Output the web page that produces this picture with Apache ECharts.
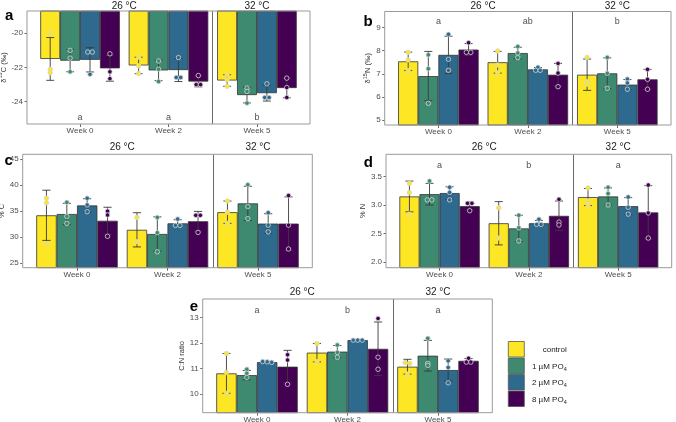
<!DOCTYPE html>
<html><head><meta charset="utf-8">
<script src="https://cdn.jsdelivr.net/npm/echarts@6/dist/echarts.min.js"></script>
<style>html,body{margin:0;padding:0;background:#fff}#c{width:676px;height:422px}</style>
</head><body><div id="c"></div>
<script>
// ---------- shared categories ----------
const weeks = ['Week 0', 'Week 2', 'Week 5'];
const weekX = [1, 2, 3];
const groups = ['control', '1 µM PO4', '2 µM PO4', '8 µM PO4'];
const groupLabels = ['{t|control}', '{t|1 µM PO}{b|4}', '{t|2 µM PO}{b|4}', '{t|8 µM PO}{b|4}'];
const temps = ['26 °C', '32 °C'];
const tempX = [1.5, 3];
const dividerX = 2.5;

// ---------- panel a: δ13C ----------
const d13C_mean = [[-21.5, -21.88, -22.76], [-21.6, -22.17, -23.61], [-21.55, -22.15, -23.5], [-22.05, -22.82, -23.2]];
const d13C_sd = [[1.25, 0.48, 0.34], [0.65, 0.6, 0.46], [0.71, 0.67, 0.46], [0.75, 0.31, 0.57]];
const d13C_pts = [
  [[-20.0, -22.1, -22.3], [-21.4, -21.9, -22.35], [-22.43, -22.72, -23.1]],
  [[-21.0, -21.45, -22.25], [-21.62, -22.1, -22.82], [-23.2, -23.4, -24.08]],
  [[-21.1, -21.1, -22.4], [-21.42, -22.58, -22.58], [-22.95, -23.75, -23.75]],
  [[-21.2, -22.25, -22.65], [-22.47, -23.0, -23.0], [-22.62, -23.17, -23.75]]
];
const d13C_letters = ['a', 'a', 'b'];
const d13C_ticks = [-24, -22, -20];

// ---------- panel b: δ15N ----------
const d15N_mean = [[7.54, 7.5, 6.96], [6.9, 7.9, 7.02], [7.82, 7.19, 6.53], [8.05, 6.96, 6.76]];
const d15N_sd = [[0.4, 0.47, 0.68], [1.07, 0.25, 0.67], [0.81, 0.08, 0.22], [0.26, 0.49, 0.43]];
const d15N_pts = [
  [[7.93, 7.6, 7.14], [7.99, 7.38, 7.05], [7.71, 6.66, 6.55]],
  [[7.82, 7.22, 5.72], [8.18, 7.9, 7.7], [7.71, 7.02, 6.37]],
  [[8.71, 7.63, 7.15], [7.28, 7.15, 7.15], [6.77, 6.6, 6.33]],
  [[8.35, 7.93, 7.93], [7.45, 7.03, 6.44], [7.19, 6.76, 6.33]]
];
const d15N_letters = ['a', 'ab', 'b'];
const d15N_ticks = [5, 6, 7, 8, 9];

// ---------- panel c: %C ----------
const pctC_mean = [[34.2, 31.4, 34.8], [34.45, 30.6, 36.5], [36.1, 32.65, 32.6], [33.15, 33.05, 32.6]];
const pctC_sd = [[4.84, 3.3, 2.15], [2.06, 3.3, 3.3], [1.3, 0.7, 1.9], [2.6, 1.9, 5.15]];
const pctC_pts = [
  [[37.5, 36.6, 28.7], [33.8, 29.1], [36.95, 34.8, 32.65]],
  [[36.7, 34.0, 32.65], [33.8, 30.85, 27.17], [40.1, 35.9, 33.55]],
  [[37.5, 36.2, 34.9], [33.48, 32.25, 32.25], [34.7, 32.3, 31.0]],
  [[35.0, 34.25, 30.15], [34.2, 34.2, 30.9], [38.0, 32.3, 27.7]]
];
const pctC_ticks = [25, 30, 35, 40, 45];

// ---------- panel d: %N ----------
const pctN_mean = [[3.15, 2.68, 3.14], [3.19, 2.59, 3.15], [3.21, 2.68, 2.98], [2.98, 2.81, 2.87]];
const pctN_sd = [[0.27, 0.38, 0.15], [0.19, 0.23, 0.15], [0.11, 0.05, 0.15], [0.07, 0.26, 0.47]];
const pctN_pts = [
  [[3.38, 3.22, 2.84], [2.95, 2.42], [3.3, 3.07, 3.0]],
  [[3.42, 3.09, 3.09], [2.82, 2.6, 2.37], [3.31, 3.2, 3.0]],
  [[3.31, 3.22, 3.09], [2.75, 2.66, 2.66], [3.14, 2.96, 2.84]],
  [[3.03, 3.03, 2.9], [3.1, 2.7, 2.65], [3.35, 2.86, 2.42]]
];
const pctN_letters = ['a', 'b', 'a'];
const pctN_ticks = [2.0, 2.5, 3.0, 3.5];

// ---------- panel e: C:N ----------
const cn_mean = [[10.81, 11.62, 11.07], [10.74, 11.66, 11.5], [11.25, 12.11, 10.94], [11.07, 11.77, 11.3]];
const cn_sd = [[0.78, 0.36, 0.29], [0.18, 0.24, 0.6], [0.03, 0.02, 0.43], [0.64, 1.05, 0.09]];
const cn_pts = [
  [[11.59, 10.84, 10.03], [11.98, 11.27], [11.23, 11.2, 10.78]],
  [[10.97, 10.81, 10.65], [11.92, 11.63, 11.44], [12.18, 11.2, 11.12]],
  [[11.27, 11.26, 11.24], [12.11, 12.11, 12.11], [11.3, 11.04, 10.44]],
  [[11.54, 11.33, 10.38], [12.96, 11.44, 10.97], [11.4, 11.25, 11.25]]
];
const cn_letters = ['a', 'b', 'a'];
const cn_ticks = [10, 11, 12, 13];

// ---------- styling / layout ----------
const COLORS = ['#FDE725', '#3E8A70', '#2E6A8E', '#440154'];
const FONT = '"Liberation Sans", Arial, Helvetica, sans-serif';
const X_MIN = 0.4, X_MAX = 3.6, BAR_W = 0.225;
const nameRich = {
  t: { fontSize: 7.5, lineHeight: 12, color: '#333', fontFamily: FONT },
  s: { fontSize: 5.5, verticalAlign: 'top', color: '#333', fontFamily: FONT }
};
const panels = [
  { tag: 'a', mean: d13C_mean, sd: d13C_sd, pts: d13C_pts, letters: d13C_letters, ticks: d13C_ticks, dec: 0,
    yName: '{t|δ}{s|13}{t|C (‰)}', left: 27, right: 310, top: 11, bottom: 124, yMin: -25.3, yMax: -18.7,
    letterY: -24.9, nameGap: 14, tagX: 5, tagY: 15.4, headY: 6 },
  { tag: 'b', mean: d15N_mean, sd: d15N_sd, pts: d15N_pts, letters: d15N_letters, ticks: d15N_ticks, dec: 0,
    yName: '{t|δ}{s|15}{t|N (‰)}', left: 384.7, right: 671, top: 11.5, bottom: 125, yMin: 4.78, yMax: 9.7,
    letterY: 9.26, nameGap: 8, tagX: 363.5, tagY: 21.4, headY: 6 },
  { tag: 'c', mean: pctC_mean, sd: pctC_sd, pts: pctC_pts, letters: null, ticks: pctC_ticks, dec: 0,
    yName: '{t|% C}', left: 22.7, right: 312.3, top: 154.3, bottom: 267.7, yMin: 24.1, yMax: 45.96,
    letterY: 0, nameGap: 11, tagX: 4.5, tagY: 160.4, headY: 147.5 },
  { tag: 'd', mean: pctN_mean, sd: pctN_sd, pts: pctN_pts, letters: pctN_letters, ticks: pctN_ticks, dec: 1,
    yName: '{t|% N}', left: 386, right: 671.7, top: 154.3, bottom: 267.7, yMin: 1.9, yMax: 3.89,
    letterY: 3.69, nameGap: 12.5, tagX: 363.7, tagY: 163, headY: 147.5 },
  { tag: 'e', mean: cn_mean, sd: cn_sd, pts: cn_pts, letters: cn_letters, ticks: cn_ticks, dec: 0,
    yName: '{t|C:N ratio}', left: 202.7, right: 492.3, top: 299, bottom: 412.7, yMin: 9.27, yMax: 13.72,
    letterY: 13.26, nameGap: 10, tagX: 189.7, tagY: 306.4, headY: 292.5 }
];

function barOffset(gi) { return (gi - 1.5) * BAR_W; }
// spread tied replicate points side by side (position dodge of identical values)
function tieOffsets(vals, tol) {
  const offs = vals.map(() => 0);
  const used = vals.map(() => false);
  for (let i = 0; i < vals.length; i++) {
    if (used[i]) continue;
    const cl = [i]; used[i] = true;
    for (let j = i + 1; j < vals.length; j++) {
      if (!used[j] && Math.abs(vals[j] - vals[i]) < tol) { cl.push(j); used[j] = true; }
    }
    cl.forEach((k, n) => { offs[k] = (n - (cl.length - 1) / 2) * 0.05; });
  }
  return offs;
}

const grid = [], xAxis = [], yAxis = [], series = [], graphic = [];

panels.forEach((p, pi) => {
  const w = p.right - p.left, h = p.bottom - p.top;
  grid.push({ left: p.left, top: p.top, width: w, height: h, show: false,
    containLabel: false, outerBoundsMode: 'none' });
  xAxis.push({ gridIndex: pi, type: 'value', min: X_MIN, max: X_MAX,
    axisLine: { show: false }, splitLine: { show: false },
    axisTick: { show: true, customValues: weekX, length: 3, lineStyle: { color: '#444', width: 0.8 } },
    axisLabel: { customValues: weekX, formatter: v => weeks[Math.round(v) - 1], margin: 3, fontSize: 8,
      color: '#4d4d4d', fontFamily: FONT } });
  yAxis.push({ gridIndex: pi, type: 'value', min: p.yMin, max: p.yMax,
    axisLine: { show: false }, splitLine: { show: false },
    axisTick: { show: true, customValues: p.ticks, length: 2.5, lineStyle: { color: '#444', width: 0.8 } },
    axisLabel: { customValues: p.ticks, formatter: v => v.toFixed(p.dec), margin: 4, fontSize: 8,
      color: '#4d4d4d', fontFamily: FONT },
    name: p.yName, nameLocation: 'middle', nameRotate: 90, nameGap: p.nameGap,
    nameTextStyle: { rich: nameRich, fontFamily: FONT } });

  // bars
  groups.forEach((g, gi) => {
    series.push({ type: 'bar', name: g, xAxisIndex: pi, yAxisIndex: pi,
      data: weekX.map((x, wi) => [x, p.mean[gi][wi]]),
      barGap: '0%', barCategoryGap: '10%', clip: true, silent: true, z: 2,
      itemStyle: { color: COLORS[gi], borderColor: '#333', borderWidth: 0.8 } });
  });

  // error bars (mean ± sd)
  const errData = [];
  groups.forEach((g, gi) => weekX.forEach((x, wi) => errData.push([x + barOffset(gi), p.mean[gi][wi], p.sd[gi][wi]])));
  series.push({ type: 'custom', xAxisIndex: pi, yAxisIndex: pi, data: errData, silent: true, z: 3,
    renderItem: function (params, api) {
      const x = api.value(0), m = api.value(1), sd = api.value(2);
      const t = api.coord([x, m + sd]), b = api.coord([x, m - sd]);
      const hw = api.size([0.09, 0])[0] / 2;
      const st = { stroke: '#3a3a3a', lineWidth: 0.9 };
      return { type: 'group', children: [
        { type: 'line', shape: { x1: t[0], y1: t[1], x2: b[0], y2: b[1] }, style: st },
        { type: 'line', shape: { x1: t[0] - hw, y1: t[1], x2: t[0] + hw, y2: t[1] }, style: st },
        { type: 'line', shape: { x1: b[0] - hw, y1: b[1], x2: b[0] + hw, y2: b[1] }, style: st }
      ] };
    } });

  // replicate points
  groups.forEach((g, gi) => {
    const data = [];
    weekX.forEach((x, wi) => {
      const vals = p.pts[gi][wi];
      const offs = tieOffsets(vals, (p.yMax - p.yMin) * 0.012);
      vals.forEach((v, k) => data.push([x + barOffset(gi) + offs[k], v]));
    });
    const s = { type: 'scatter', xAxisIndex: pi, yAxisIndex: pi, data, symbol: 'circle', symbolSize: 4.5,
      silent: true, z: 4,
      itemStyle: { color: COLORS[gi], borderColor: '#d6d6d6', borderWidth: 0.8, opacity: 1 } };
    if (gi === 0) {
      // facet divider between 26 °C and 32 °C
      s.markLine = { silent: true, symbol: ['none', 'none'], label: { show: false }, animation: false, z: 3,
        lineStyle: { color: '#6a6a6a', width: 1, type: 'solid' }, data: [{ xAxis: dividerX }] };
    }
    series.push(s);
  });

  // significance letters
  if (p.letters) {
    series.push({ type: 'scatter', xAxisIndex: pi, yAxisIndex: pi, silent: true, z: 5,
      data: weekX.map((x, wi) => ({ value: [x, p.letterY], name: p.letters[wi] })),
      symbolSize: 1, itemStyle: { color: 'rgba(0,0,0,0)' },
      label: { show: true, position: 'inside', formatter: '{b}', fontSize: 9, color: '#1a1a1a', fontFamily: FONT } });
  }

  // panel frame
  graphic.push({ type: 'rect', z: 100, silent: true, shape: { x: p.left, y: p.top, width: w, height: h },
    style: { fill: null, stroke: '#9a9a9a', lineWidth: 1 } });
  // temperature headers and panel tag
  tempX.forEach((tx, ti) => graphic.push({ type: 'text', x: p.left + (tx - X_MIN) / (X_MAX - X_MIN) * w, y: p.headY,
    style: { text: temps[ti], fontSize: 10, fill: '#1a1a1a', align: 'center', verticalAlign: 'middle', fontFamily: FONT } }));
  graphic.push({ type: 'text', x: p.tagX, y: p.tagY,
    style: { text: p.tag, fontSize: 15, fontWeight: 'bold', fill: '#000', align: 'left', verticalAlign: 'middle', fontFamily: FONT } });
});

// legend (drawn as graphic swatches + labels)
const legRich = { t: { fontSize: 8, lineHeight: 12, fill: '#1a1a1a', color: '#1a1a1a', fontFamily: FONT },
                  b: { fontSize: 5.5, verticalAlign: 'bottom', fill: '#1a1a1a', color: '#1a1a1a', fontFamily: FONT } };
groups.forEach((g, gi) => {
  const y0 = 341.5 + gi * 16.5;
  graphic.push({ type: 'rect', shape: { x: 508.3, y: y0, width: 16, height: 15.5 },
    style: { fill: COLORS[gi], stroke: '#555', lineWidth: 0.8 } });
  graphic.push({ type: 'text', x: 566.7, y: y0 + 8.3,
    style: { text: groupLabels[gi], rich: legRich, align: 'right', verticalAlign: 'middle', fontFamily: FONT, fontSize: 8 } });
});

const chart = echarts.init(document.getElementById('c'), null, { renderer: 'canvas', width: 676, height: 422 });
chart.setOption({ animation: false, backgroundColor: '#fff', grid, xAxis, yAxis, series, graphic,
  tooltip: { show: false } });
</script></body></html>
